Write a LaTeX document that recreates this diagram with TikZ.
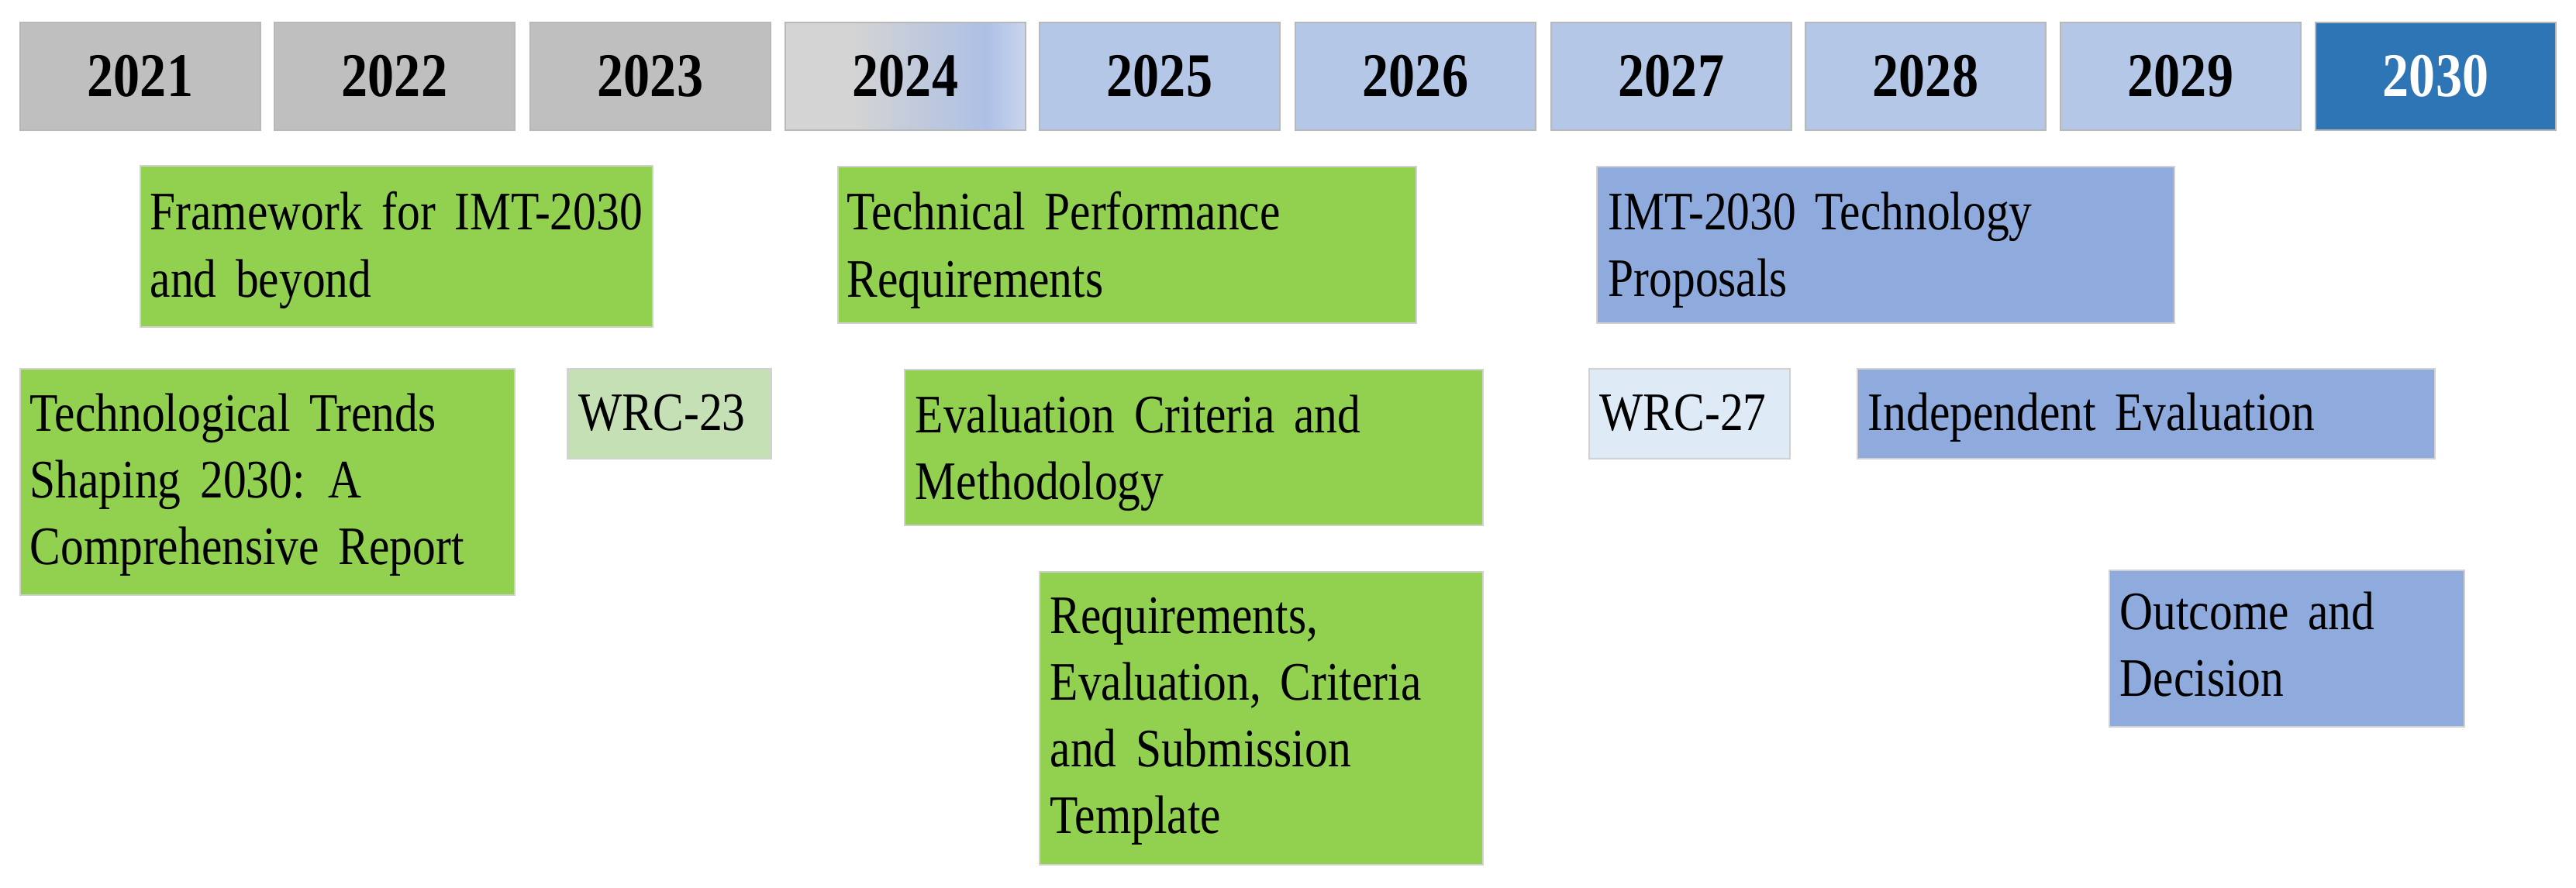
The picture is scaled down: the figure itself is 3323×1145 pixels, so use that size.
\documentclass[tikz,border=0pt]{standalone}
\usepackage{fontspec}
\setmainfont{Liberation Serif}[FakeStretch=0.85]
\definecolor{yrgray}{HTML}{BFBFBF}
\definecolor{yrblue}{HTML}{B4C7E7}
\definecolor{yrdark}{HTML}{2E75B6}
\definecolor{g24}{HTML}{D4D4D4}
\definecolor{b24}{HTML}{ADC0E5}
\definecolor{c24}{HTML}{CAD6EF}
\definecolor{boxgreen}{HTML}{92D050}
\definecolor{boxlgreen}{HTML}{C5E0B4}
\definecolor{boxblue}{HTML}{8FAADC}
\definecolor{boxlblue}{HTML}{DEEBF7}
\pgfdeclarehorizontalshading{yrshade}{100bp}{color(0bp)=(g24); color(25bp)=(g24); color(39bp)=(g24); color(67bp)=(b24); color(75bp)=(c24); color(100bp)=(c24)}
\newcommand\myevfont{\fontsize{19.9pt}{24.5pt}\selectfont\spaceskip=7pt plus 2pt\relax}
\begin{document}
\begin{tikzpicture}[x=0.01cm, y=-0.01cm,
  yearbox/.style={draw=black!28, line width=0.5pt, minimum width=3.1cm, minimum height=1.39cm,
    inner sep=0pt, anchor=north west, font=\fontsize{22.8pt}{24pt}\selectfont\bfseries},
  evbox/.style={draw=black!18, line width=0.5pt, inner sep=0pt, anchor=north west},
  evtext/.style={anchor=north west, inner sep=0pt, align=left, font=\myevfont,
    execute at begin node={\rule{0pt}{0.6cm}}}
]
\useasboundingbox (0,0) rectangle (3323,1145);
% year boxes
\node[yearbox, fill=yrgray] (y21) at (25,28) {2021};
\node[yearbox, fill=yrgray] (y22) at (353,28) {2022};
\node[yearbox, fill=yrgray] (y23) at (683,28) {2023};
\node[yearbox, shading=yrshade] (y24) at (1012,28) {2024};
\node[yearbox, fill=yrblue] (y25) at (1340,28) {2025};
\node[yearbox, fill=yrblue] (y26) at (1670,28) {2026};
\node[yearbox, fill=yrblue] (y27) at (2000,28) {2027};
\node[yearbox, fill=yrblue] (y28) at (2328,28) {2028};
\node[yearbox, fill=yrblue] (y29) at (2657,28) {2029};
\node[yearbox, fill=yrdark, text=white] (y30) at (2986,28) {2030};
% event boxes
\node[evbox, fill=boxgreen, minimum width=6.61cm, minimum height=2.08cm] (fw) at (180,213) {};
\node[evtext] (fwt) at (193,247) {Framework for IMT-2030\\and beyond};
\node[evbox, fill=boxgreen, minimum width=7.46cm, minimum height=2.02cm] (tpr) at (1080,214) {};
\node[evtext] (tprt) at (1092,247) {Technical Performance\\Requirements};
\node[evbox, fill=boxblue, minimum width=7.45cm, minimum height=2.02cm] (imt) at (2059,214) {};
\node[evtext] (imtt) at (2074,247) {IMT-2030 Technology\\Proposals};
\node[evbox, fill=boxgreen, minimum width=6.38cm, minimum height=2.92cm] (ttr) at (25,475) {};
\node[evtext] (ttrt) at (38,507) {Technological Trends\\Shaping 2030: A\\Comprehensive Report};
\node[evbox, fill=boxlgreen, minimum width=2.63cm, minimum height=1.16cm] (w23) at (731,475) {};
\node[evtext] (w23t) at (746,495) {WRC-23};
\node[evbox, fill=boxgreen, minimum width=7.46cm, minimum height=2.01cm] (ecm) at (1166,476) {};
\node[evtext] (ecmt) at (1180,509) {Evaluation Criteria and\\Methodology};
\node[evbox, fill=boxlblue, minimum width=2.59cm, minimum height=1.16cm] (w27) at (2049,475) {};
\node[evtext] (w27t) at (2063,495) {WRC-27};
\node[evbox, fill=boxblue, minimum width=7.45cm, minimum height=1.16cm] (ie) at (2395,475) {};
\node[evtext] (iet) at (2409,495) {Independent Evaluation};
\node[evbox, fill=boxgreen, minimum width=5.72cm, minimum height=3.78cm] (rest) at (1340,737) {};
\node[evtext] (restt) at (1354,770) {Requirements,\\Evaluation, Criteria\\and Submission\\Template};
\node[evbox, fill=boxblue, minimum width=4.58cm, minimum height=2.02cm] (od) at (2720,735) {};
\node[evtext] (odt) at (2734,763) {Outcome and\\Decision};
\end{tikzpicture}
\end{document}
